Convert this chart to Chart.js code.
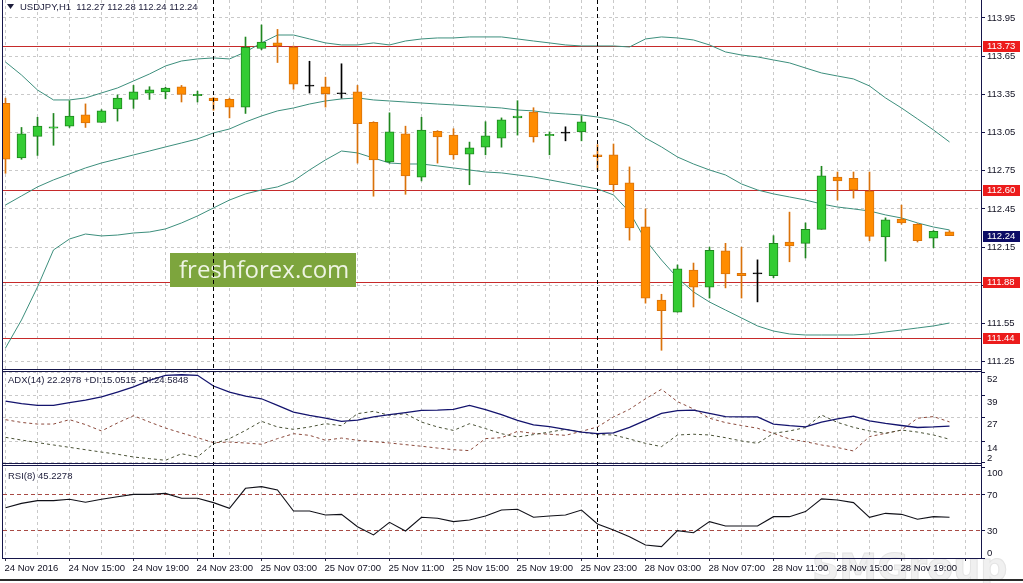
<!DOCTYPE html>
<html>
<head>
<meta charset="utf-8">
<title>USDJPY H1</title>
<script src="https://cdn.jsdelivr.net/npm/chart.js@4.4.1/dist/chart.umd.min.js"></script>
<style>
  html, body { margin: 0; padding: 0; background: #ffffff; }
  canvas { display: block; }
</style>
</head>
<body>
<canvas id="chart" width="1023" height="583"></canvas>
<script>
// axis labels, one every 4 bars (H1)
const tickLabels = ['24 Nov 2016', '24 Nov 15:00', '24 Nov 19:00', '24 Nov 23:00', '25 Nov 03:00',
  '25 Nov 07:00', '25 Nov 11:00', '25 Nov 15:00', '25 Nov 19:00', '25 Nov 23:00', '28 Nov 03:00',
  '28 Nov 07:00', '28 Nov 11:00', '28 Nov 15:00', '28 Nov 19:00'];

// candles
const open = [113.28, 112.85, 113.02, 113.085, 113.10, 113.19, 113.13, 113.235, 113.31, 113.36,
  113.37, 113.41, 113.34, 113.32, 113.31, 113.25, 113.71, 113.755, 113.72, 113.415,
  113.41, 113.355, 113.37, 113.13, 112.82, 113.04, 112.70, 113.06, 113.03, 112.88,
  112.935, 113.005, 113.165, 113.21, 113.025, 113.045, 113.055, 112.875, 112.875, 112.655,
  112.31, 111.735, 111.64, 111.97, 111.835, 112.12, 111.945, 111.94, 111.925, 112.19,
  112.18, 112.29, 112.70, 112.69, 112.59, 112.23, 112.37, 112.33, 112.22, 112.27];
const high = [113.32, 113.09, 113.17, 113.20, 113.30, 113.275, 113.23, 113.345, 113.42, 113.41,
  113.405, 113.42, 113.375, 113.325, 113.32, 113.80, 113.895, 113.86, 113.73, 113.61,
  113.485, 113.59, 113.42, 113.135, 113.205, 113.10, 113.17, 113.065, 113.08, 112.975,
  113.135, 113.165, 113.30, 113.245, 113.055, 113.095, 113.18, 112.955, 112.96, 112.78,
  112.45, 111.78, 112.01, 112.025, 112.15, 112.18, 112.15, 112.05, 112.24, 112.425,
  112.34, 112.785, 112.74, 112.74, 112.74, 112.38, 112.48, 112.335, 112.28, 112.28];
const low = [112.73, 112.84, 112.87, 112.95, 113.09, 113.09, 113.13, 113.14, 113.24, 113.31,
  113.315, 113.29, 113.29, 113.225, 113.165, 113.20, 113.70, 113.60, 113.39, 113.36,
  113.25, 113.32, 112.81, 112.55, 112.81, 112.565, 112.67, 112.81, 112.84, 112.64,
  112.875, 112.935, 113.03, 112.975, 112.875, 112.985, 112.985, 112.755, 112.585, 112.205,
  111.71, 111.34, 111.64, 111.68, 111.75, 111.83, 111.75, 111.72, 111.91, 112.035,
  112.065, 112.29, 112.52, 112.535, 112.20, 112.04, 112.33, 112.19, 112.145, 112.24];
const close = [112.84, 113.04, 113.10, 113.095, 113.18, 113.125, 113.22, 113.32, 113.37, 113.385,
  113.40, 113.35, 113.35, 113.30, 113.25, 113.72, 113.76, 113.73, 113.43, 113.415,
  113.355, 113.355, 113.12, 112.835, 113.055, 112.71, 113.07, 113.015, 112.875, 112.93,
  113.025, 113.15, 113.18, 113.015, 113.035, 113.045, 113.135, 112.86, 112.64, 112.30,
  111.75, 111.65, 111.98, 111.835, 112.125, 111.94, 111.925, 111.94, 112.18, 112.16,
  112.29, 112.71, 112.67, 112.60, 112.235, 112.365, 112.34, 112.20, 112.275, 112.24];

// bollinger bands
const bbUpper = [113.604, 113.502, 113.384, 113.306, 113.306, 113.322, 113.361, 113.400, 113.455, 113.510,
  113.573, 113.612, 113.628, 113.636, 113.628, 113.683, 113.754, 113.816, 113.816, 113.785,
  113.754, 113.738, 113.738, 113.754, 113.738, 113.769, 113.785, 113.793, 113.793, 113.801,
  113.801, 113.801, 113.785, 113.769, 113.754, 113.738, 113.730, 113.730, 113.730, 113.722,
  113.785, 113.801, 113.793, 113.777, 113.738, 113.683, 113.659, 113.644, 113.620, 113.597,
  113.557, 113.518, 113.494, 113.471, 113.416, 113.322, 113.243, 113.157, 113.070, 112.976];
const bbMiddle = [112.481, 112.552, 112.623, 112.678, 112.725, 112.772, 112.811, 112.842, 112.874, 112.905,
  112.937, 112.968, 113.000, 113.047, 113.078, 113.133, 113.180, 113.220, 113.243, 113.274,
  113.298, 113.314, 113.322, 113.306, 113.298, 113.290, 113.282, 113.274, 113.267, 113.259,
  113.251, 113.243, 113.227, 113.220, 113.204, 113.196, 113.188, 113.172, 113.149, 113.102,
  113.007, 112.937, 112.858, 112.803, 112.756, 112.717, 112.646, 112.599, 112.568, 112.544,
  112.520, 112.489, 112.465, 112.450, 112.434, 112.403, 112.379, 112.340, 112.308, 112.285];
const bbLower = [111.358, 111.578, 111.837, 112.128, 112.214, 112.253, 112.238, 112.245, 112.261, 112.269,
  112.293, 112.340, 112.395, 112.458, 112.520, 112.568, 112.599, 112.623, 112.670, 112.756,
  112.835, 112.905, 112.890, 112.850, 112.811, 112.803, 112.803, 112.788, 112.772, 112.756,
  112.740, 112.733, 112.717, 112.701, 112.678, 112.654, 112.630, 112.607, 112.560, 112.426,
  112.206, 112.049, 111.908, 111.798, 111.719, 111.656, 111.594, 111.531, 111.491, 111.468,
  111.460, 111.460, 111.460, 111.460, 111.468, 111.484, 111.499, 111.515, 111.531, 111.554];

// ADX(14)
const adx = [36.0, 34.6, 33.7, 33.7, 35.2, 36.6, 38.3, 41.0, 43.8, 47.4,
  50.2, 50.5, 50.2, 44.3, 41.0, 38.8, 37.3, 33.7, 30.0, 28.2,
  26.7, 24.9, 25.6, 27.3, 28.6, 29.7, 30.9, 31.1, 31.5, 33.7,
  31.3, 28.6, 25.4, 22.9, 22.0, 20.5, 19.0, 18.1, 18.5, 21.6,
  25.4, 29.3, 30.8, 31.0, 29.3, 27.5, 27.3, 27.3, 23.4, 22.5,
  21.8, 24.4, 26.2, 27.8, 25.2, 23.8, 22.6, 21.5, 21.8, 22.3];
const plusDI = [16.1, 14.6, 13.2, 11.9, 10.6, 9.3, 8.0, 6.8, 5.3, 4.4,
  3.5, 7.1, 5.3, 12.6, 15.4, 19.9, 24.9, 21.8, 20.5, 21.8,
  23.6, 22.5, 29.1, 30.4, 28.2, 29.1, 24.5, 21.8, 19.9, 23.6,
  20.9, 18.1, 16.3, 17.6, 19.0, 20.5, 19.0, 17.6, 17.4, 15.2,
  12.8, 11.0, 17.4, 17.8, 17.4, 15.9, 14.1, 12.8, 18.3, 19.6,
  21.5, 28.4, 24.3, 21.6, 19.6, 18.3, 20.1, 19.0, 17.4, 15.05];
const minusDI = [25.8, 24.3, 23.4, 23.4, 25.8, 23.1, 19.6, 24.0, 28.0, 24.5,
  21.2, 18.5, 15.9, 13.2, 13.5, 13.0, 12.3, 15.4, 18.1, 17.2,
  14.5, 15.7, 14.5, 13.7, 13.0, 12.1, 11.2, 10.2, 9.3, 8.8,
  15.4, 15.9, 19.4, 18.3, 17.8, 17.2, 19.4, 21.8, 27.3, 31.5,
  37.3, 42.5, 35.7, 31.7, 26.6, 24.2, 22.6, 21.1, 18.3, 15.2,
  13.7, 11.9, 10.5, 8.6, 16.5, 18.3, 20.1, 26.6, 27.5, 24.58];

// RSI(8)
const rsi = [55.9, 60.7, 63.7, 63.7, 65.2, 61.9, 65.2, 68.1, 70.7, 70.7,
  71.8, 66.3, 66.3, 61.5, 55.2, 77.4, 79.3, 75.6, 52.2, 52.2,
  47.8, 48.5, 34.8, 25.6, 39.6, 30.0, 45.2, 44.1, 40.4, 42.2,
  46.7, 53.3, 54.1, 45.2, 46.7, 47.8, 53.3, 37.8, 31.1, 23.7,
  14.4, 12.6, 30.4, 28.1, 40.4, 35.6, 35.6, 35.6, 45.9, 45.9,
  51.5, 65.6, 64.4, 61.5, 45.2, 49.6, 48.5, 43.0, 45.9, 45.23];

const levels = [113.73, 112.60, 111.88, 111.44];
const lastPrice = 112.24;
const priceTicks = [111.25, 111.55, 111.85, 112.15, 112.45, 112.75, 113.05, 113.35, 113.65, 113.95];
const adxTicks = [52, 39, 27, 14, 2];
const rsiTicks = [100, 70, 30, 0];
const rsiLevels = [70, 30];
const daySeparators = [13, 37];

const FONT = '"Liberation Sans", Arial, sans-serif';
const UP = '#34cc34', UP_LINE = '#1f861f';
const DOWN = '#ff8c00', DOWN_LINE = '#d9720a';
const DOJI = '#000000';

Chart.defaults.font.family = FONT;
Chart.defaults.font.size = 9.5;
Chart.defaults.color = '#111122';

function bodyColor(i) {
  if (close[i] > open[i]) return UP;
  if (close[i] < open[i]) return DOWN;
  return DOJI;
}
function edgeColor(i) {
  if (close[i] > open[i]) return UP_LINE;
  if (close[i] < open[i]) return DOWN_LINE;
  return DOJI;
}
const pts = arr => arr.map((v, i) => ({ x: i, y: v }));

function fixWidth(s) {
  s.width = 42;
  s.paddingTop = 0;
  s.paddingBottom = 0;
}

const mt4 = {
  id: 'mt4',
  beforeDraw(chart) {
    const ctx = chart.ctx;
    ctx.save();
    ctx.fillStyle = '#ffffff';
    ctx.fillRect(0, 0, chart.width, chart.height);
    // faint watermark under the time axis
    ctx.font = 'bold 38px "DejaVu Sans"';
    ctx.fillStyle = '#f0f0f0';
    ctx.strokeStyle = '#e4e4e4';
    ctx.lineWidth = 1;
    ctx.fillText('SMGroup', 812, 580);
    ctx.strokeText('SMGroup', 812, 580);
    ctx.restore();
  },
  beforeDatasetsDraw(chart) {
    const { ctx, chartArea: a } = chart;
    const p = chart.scales.yP;
    ctx.save();
    ctx.strokeStyle = '#c62a2a';
    ctx.lineWidth = 1;
    levels.forEach(v => {
      const y = Math.round(p.getPixelForValue(v)) + 0.5;
      ctx.beginPath();
      ctx.moveTo(a.left, y);
      ctx.lineTo(a.right, y);
      ctx.stroke();
    });
    ctx.restore();
  },
  afterDraw(chart) {
    const { ctx, chartArea: a, scales } = chart;
    const x = scales.x, p = scales.yP, ad = scales.yA, r = scales.yR;
    ctx.save();

    // broker badge
    ctx.fillStyle = '#7da53d';
    ctx.fillRect(170, 253, 186, 34);
    ctx.fillStyle = '#eef4e2';
    ctx.font = '24px "Open Sans"';
    ctx.textBaseline = 'alphabetic';
    ctx.fillText('freshforex.com', 179, 278);

    // period separators
    ctx.strokeStyle = '#000000';
    ctx.lineWidth = 1;
    ctx.setLineDash([4, 3]);
    daySeparators.forEach(i => {
      const px = Math.floor(x.getPixelForValue(i)) + 0.5;
      ctx.beginPath();
      ctx.moveTo(px, a.top);
      ctx.lineTo(px, a.bottom);
      ctx.stroke();
    });
    ctx.setLineDash([]);

    // window frames
    ctx.fillStyle = '#16164a';
    ctx.fillRect(a.left - 1, p.bottom - 1, a.width + 1, 1);
    ctx.fillRect(a.left - 1, p.bottom + 1, a.width + 1, 1);
    ctx.fillRect(a.left - 1, ad.bottom - 1, a.width + 1, 1);
    ctx.fillRect(a.left - 1, ad.bottom + 1, a.width + 1, 1);
    ctx.fillRect(a.left - 1, r.bottom, a.width + 1, 1);
    ctx.fillRect(a.left - 1, 0, 1, r.bottom + 1);
    ctx.fillRect(a.right, 0, 1, r.bottom + 1);
    ctx.fillStyle = '#2b2b2b';
    ctx.fillRect(0, 579, chart.width, 2);

    // headers
    ctx.fillStyle = '#1c1c3a';
    ctx.beginPath();
    ctx.moveTo(7, 4);
    ctx.lineTo(14, 4);
    ctx.lineTo(10.5, 9);
    ctx.closePath();
    ctx.fill();
    ctx.font = '9.5px ' + FONT;
    ctx.textAlign = 'left';
    ctx.fillText('USDJPY,H1  112.27 112.28 112.24 112.24', 20, 10);
    ctx.fillText('ADX(14) 22.2978 +DI:15.0515 -DI:24.5848', 8, 383);
    ctx.fillText('RSI(8) 45.2278', 8, 479);

    // indicator window scales
    ctx.fillStyle = '#111122';
    ctx.textBaseline = 'middle';
    adxTicks.forEach(v => {
      const y = Math.min(ad.getPixelForValue(v) + 7, ad.bottom - 6);
      ctx.fillText(String(v), a.right + 6, y);
    });
    rsiTicks.forEach(v => {
      const y = Math.max(r.top + 9, Math.min(r.bottom - 5, r.getPixelForValue(v)));
      ctx.fillText(String(v), a.right + 6, y);
    });

    // price tags
    const tag = (v, color) => {
      const y = p.getPixelForValue(v);
      ctx.fillStyle = color;
      ctx.fillRect(a.right + 2, Math.round(y) - 5, 37, 11);
      ctx.fillStyle = '#ffffff';
      ctx.fillText(v.toFixed(2), a.right + 6, y + 0.5);
    };
    levels.forEach(v => tag(v, '#ec1c1c'));
    tag(lastPrice, '#0c0c66');

    ctx.restore();
  }
};

new Chart(document.getElementById('chart'), {
  type: 'bar',
  data: {
    datasets: [
      {
        label: 'body',
        data: open.map((o, i) => ({ x: i, y: [o, close[i]] })),
        backgroundColor: open.map((o, i) => bodyColor(i)),
        borderColor: open.map((o, i) => edgeColor(i)),
        borderWidth: 1,
        borderSkipped: false,
        minBarLength: 1,
        barThickness: 9,
        grouped: false,
        yAxisID: 'yP',
        order: 0
      },
      {
        label: 'wick',
        data: low.map((l, i) => ({ x: i, y: [l, high[i]] })),
        backgroundColor: open.map((o, i) => edgeColor(i)),
        borderWidth: 0,
        barThickness: 1,
        grouped: false,
        yAxisID: 'yP',
        order: 1
      },
      { type: 'line', label: 'upper', data: pts(bbUpper), yAxisID: 'yP', borderColor: '#3d8f7d', borderWidth: 1, pointRadius: 0, order: 2 },
      { type: 'line', label: 'middle', data: pts(bbMiddle), yAxisID: 'yP', borderColor: '#3d8f7d', borderWidth: 1, pointRadius: 0, order: 2 },
      { type: 'line', label: 'lower', data: pts(bbLower), yAxisID: 'yP', borderColor: '#3d8f7d', borderWidth: 1, pointRadius: 0, order: 2 },
      { type: 'line', label: 'ADX', data: pts(adx), yAxisID: 'yA', borderColor: '#14146e', borderWidth: 1.3, pointRadius: 0 },
      { type: 'line', label: '+DI', data: pts(plusDI), yAxisID: 'yA', borderColor: '#4a5236', borderWidth: 1, borderDash: [3, 3], pointRadius: 0 },
      { type: 'line', label: '-DI', data: pts(minusDI), yAxisID: 'yA', borderColor: '#8c4a3c', borderWidth: 1, borderDash: [3, 3], pointRadius: 0 },
      { type: 'line', label: 'RSI', data: pts(rsi), yAxisID: 'yR', borderColor: '#101018', borderWidth: 1.1, pointRadius: 0 }
    ]
  },
  options: {
    responsive: false,
    animation: false,
    devicePixelRatio: 1,
    events: [],
    layout: { padding: { left: 3, right: 0, top: 0, bottom: 0 } },
    plugins: { legend: { display: false }, tooltip: { enabled: false } },
    scales: {
      x: {
        type: 'linear',
        min: -0.15625,
        max: 60.96875,
        offset: false,
        afterBuildTicks: s => {
          s.ticks = [];
          for (let v = 0; v <= 60; v += 2) s.ticks.push({ value: v });
        },
        afterFit: s => { s.height = 25; s.paddingLeft = 0; s.paddingRight = 0; },
        grid: {
          offset: false,
          color: '#c9c9c9',
          tickLength: 3,
          tickColor: c => (c.tick && c.tick.value % 4 === 0) ? '#333344' : 'rgba(0,0,0,0)'
        },
        border: { display: false, dash: [3, 3] },
        ticks: {
          autoSkip: false,
          maxRotation: 0,
          minRotation: 0,
          align: 'start',
          labelOffset: -1,
          padding: 2,
          color: '#111122',
          callback: v => (v % 4 === 0 && tickLabels[v / 4]) || ''
        }
      },
      yP: {
        type: 'linear',
        position: 'right',
        stack: 'panes',
        stackWeight: 370,
        min: 111.185,
        max: 114.091,
        afterBuildTicks: s => { s.ticks = priceTicks.map(v => ({ value: v })); },
        afterFit: fixWidth,
        grid: { color: '#c9c9c9', tickLength: 4, tickColor: '#16164a' },
        border: { display: false, dash: [3, 3] },
        ticks: { padding: 2, color: '#111122', callback: v => v.toFixed(2) }
      },
      yA: {
        type: 'linear',
        position: 'right',
        stack: 'panes',
        stackWeight: 94,
        min: 1.45,
        max: 53.1,
        afterBuildTicks: s => { s.ticks = adxTicks.map(v => ({ value: v })); },
        afterFit: fixWidth,
        grid: { color: '#c9c9c9', tickLength: 4, tickColor: '#16164a' },
        border: { display: false, dash: [3, 3] },
        ticks: { display: false }
      },
      yR: {
        type: 'linear',
        position: 'right',
        stack: 'panes',
        stackWeight: 94,
        min: 0,
        max: 104.4,
        afterBuildTicks: s => { s.ticks = rsiTicks.map(v => ({ value: v })); },
        afterFit: fixWidth,
        grid: {
          color: c => (c.tick && rsiLevels.includes(c.tick.value)) ? '#a84a44' : 'rgba(0,0,0,0)',
          tickLength: 4,
          tickColor: '#16164a'
        },
        border: { display: false, dash: [4, 3] },
        ticks: { display: false }
      }
    }
  },
  plugins: [mt4]
});
</script>
</body>
</html>
